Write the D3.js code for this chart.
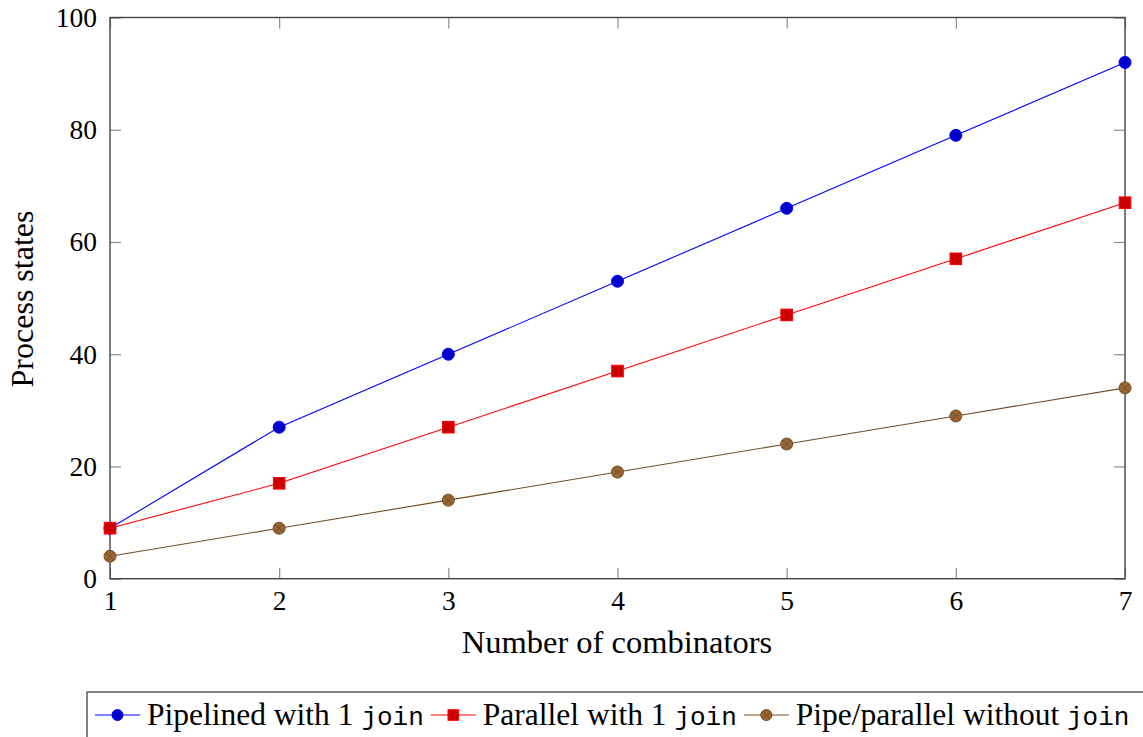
<!DOCTYPE html>
<html>
<head>
<meta charset="utf-8">
<script src="https://cdn.jsdelivr.net/npm/d3@7"></script>
<style>
  html, body { margin: 0; padding: 0; background: #fff; }
  svg { display: block; }
  text { font-family: "Liberation Serif", "Times New Roman", serif; fill: #000; }
  .mono { font-family: "Liberation Mono", "DejaVu Sans Mono", monospace; }
</style>
</head>
<body>
<svg id="chart" width="1143" height="737"></svg>
<script>
// ---- data ----
const combinators = [1, 2, 3, 4, 5, 6, 7];
const pipelined = [9, 27, 40, 53, 66, 79, 92];
const parallel = [9, 17, 27, 37, 47, 57, 67];
const pipeParallel = [4, 9, 14, 19, 24, 29, 34];
const xTicks = [1, 2, 3, 4, 5, 6, 7];
const yTicks = [0, 20, 40, 60, 80, 100];
const seriesNames = [
  ["Pipelined with 1 ", "join"],
  ["Parallel with 1 ", "join"],
  ["Pipe/parallel without ", "join"]
];

// ---- styles ----
const styles = [
  { line: "#0000ff", fill: "#0000cc", mark: "circle" },
  { line: "#ff0000", fill: "#cc0000", mark: "square" },
  { line: "#734d26", fill: "#996633", mark: "otimes" }
];
const seriesValues = [pipelined, parallel, pipeParallel];

const svg = d3.select("#chart");
const L = 110, R = 1125, T = 17.5, B = 578.7;
const x = d3.scaleLinear().domain([1, 7]).range([L, R]);
const y = d3.scaleLinear().domain([0, 100]).range([B, T]);

const tickLen = 11;
function styleAxis(g) {
  g.select(".domain").remove();
  g.selectAll(".tick line").attr("stroke", "#8c8c8c").attr("stroke-width", 1.2);
  g.selectAll(".tick text").attr("font-family", "Liberation Serif").attr("font-size", 27.5).attr("fill", "#000");
}
svg.append("g").attr("transform", `translate(0,${B})`)
  .call(d3.axisBottom(x).tickValues(xTicks).tickFormat(d3.format("d")).tickSize(-tickLen).tickPadding(12))
  .call(styleAxis);
svg.append("g").attr("transform", `translate(0,${T})`)
  .call(d3.axisTop(x).tickValues(xTicks).tickFormat("").tickSize(-tickLen))
  .call(styleAxis);
svg.append("g").attr("transform", `translate(${L},0)`)
  .call(d3.axisLeft(y).tickValues(yTicks).tickFormat(d3.format("d")).tickSize(-tickLen).tickPadding(13))
  .call(styleAxis);
svg.append("g").attr("transform", `translate(${R},0)`)
  .call(d3.axisRight(y).tickValues(yTicks).tickFormat("").tickSize(-tickLen))
  .call(styleAxis);

// frame
svg.append("rect").attr("x", L).attr("y", T).attr("width", R - L).attr("height", B - T)
  .attr("fill", "none").attr("stroke", "#444").attr("stroke-width", 1.4);

// marker drawer
function drawMarker(g, kind, st, cx, cy, r) {
  if (kind === "circle") {
    g.append("circle").attr("cx", cx).attr("cy", cy).attr("r", r)
      .attr("fill", st.fill).attr("stroke", st.line).attr("stroke-width", 1);
  } else if (kind === "square") {
    g.append("rect").attr("x", cx - r).attr("y", cy - r).attr("width", 2 * r).attr("height", 2 * r)
      .attr("fill", st.fill).attr("stroke", st.line).attr("stroke-width", 1);
  } else {
    g.append("circle").attr("cx", cx).attr("cy", cy).attr("r", r)
      .attr("fill", st.fill).attr("stroke", st.line).attr("stroke-width", 1);
    const d = r * 0.7071;
    g.append("path").attr("d", `M${cx - d},${cy - d}L${cx + d},${cy + d}M${cx - d},${cy + d}L${cx + d},${cy - d}`)
      .attr("stroke", st.line).attr("stroke-width", 1).attr("fill", "none");
  }
}

// series
const line = d3.line().x((d, i) => x(combinators[i])).y(d => y(d));
seriesValues.forEach((vals, si) => {
  const st = styles[si];
  const g = svg.append("g");
  g.append("path").datum(vals).attr("d", line).attr("fill", "none")
    .attr("stroke", st.line).attr("stroke-width", 1.1);
  vals.forEach((v, i) => drawMarker(g, st.mark, st, x(combinators[i]), y(v), st.mark === "square" ? 5.8 : 6));
});

// axis labels
svg.append("text").attr("x", 617).attr("y", 653).attr("text-anchor", "middle")
  .attr("font-size", 32.5).text("Number of combinators");
svg.append("text").attr("transform", "translate(33,299) rotate(-90)").attr("text-anchor", "middle")
  .attr("font-size", 32).text("Process states");

// legend
const legY = 715;
const leg = svg.append("g");
leg.append("rect").attr("x", 87).attr("y", 692).attr("width", 1070).attr("height", 60)
  .attr("fill", "#fff").attr("stroke", "#333").attr("stroke-width", 1.2);
let cursor = 95;
seriesNames.forEach((nm, si) => {
  const st = styles[si];
  leg.append("line").attr("x1", cursor).attr("x2", cursor + 45).attr("y1", legY).attr("y2", legY)
    .attr("stroke", st.line).attr("stroke-width", 1.1);
  drawMarker(leg, st.mark, st, cursor + 22.5, legY, st.mark === "square" ? 5.3 : 5.5);
  cursor += 52;
  const t = leg.append("text").attr("x", cursor).attr("y", 725).attr("font-size", 31.5);
  t.append("tspan").text(nm[0]);
  t.append("tspan").attr("class", "mono").attr("font-size", 26).text(nm[1]);
  cursor += t.node().getComputedTextLength() + 7;
});
</script>
</body>
</html>
